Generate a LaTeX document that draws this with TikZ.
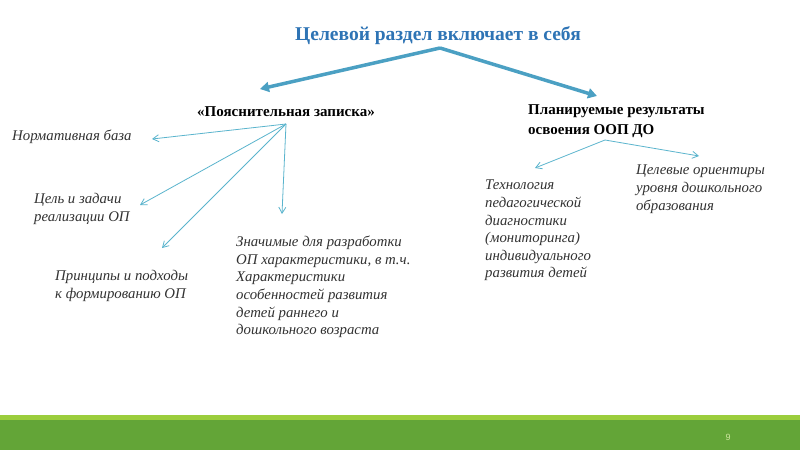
\documentclass[tikz,border=0pt]{standalone}
\usepackage{fontspec}
\setmainfont{Liberation Serif}
\setsansfont{Liberation Sans}
\usetikzlibrary{arrows.meta}
\definecolor{titleblue}{RGB}{46,116,181}
\definecolor{bigarrow}{RGB}{75,160,195}
\definecolor{thinarrow}{RGB}{90,180,205}
\definecolor{txtgray}{RGB}{50,50,50}
\definecolor{darkgreen}{RGB}{99,165,55}
\definecolor{lightgreen}{RGB}{155,205,60}
\tikzset{
  bigarr/.style={draw=bigarrow, line width=3.5pt, -{Triangle[length=9pt,width=10pt]}},
  thinarr/.style={draw=thinarrow, line width=0.8pt, -{Straight Barb[length=6pt,width=7pt]}},
  head/.style={font=\fontsize{15}{19}\selectfont\bfseries, text=black, inner sep=0pt},
  item/.style={font=\fontsize{14.8}{17.6}\selectfont\itshape, text=txtgray, inner sep=0pt, align=left, anchor=north west}
}
\begin{document}
\begin{tikzpicture}[x=1pt,y=-1pt]
\useasboundingbox (0,0) rectangle (800,450);
\fill[white] (0,0) rectangle (800,450);
% footer bar
\fill[lightgreen] (0,415) rectangle (800,420);
\fill[darkgreen] (0,420) rectangle (800,450);
\node[font=\sffamily\fontsize{9}{10}\selectfont, text=lightgreen!50!white, inner sep=0pt] (pg) at (728,437) {9};
% title
\node[font=\fontsize{19.5}{22}\selectfont\bfseries, text=titleblue, inner sep=0pt] (title) at (438,35.5) {Целевой раздел включает в себя};
\coordinate (tsplit) at (440,48);
\coordinate (lend) at (260,89);
\coordinate (rend) at (597,96);
\draw[bigarr] (tsplit) -- (lend);
\draw[bigarr] (tsplit) -- (rend);
% heads
\node[head] (poyas) at (286,112) {«Пояснительная записка»};
\node[head, align=left, anchor=north west, font=\fontsize{15}{20}\selectfont\bfseries] (plan) at (528,104) {Планируемые результаты\\освоения ООП ДО};
% left items
\node[item] (norm) at (12,130) {Нормативная база};
\node[item] (cel) at (34,193) {Цель и задачи\\реализации ОП};
\node[item] (princ) at (55,270) {Принципы и подходы\\к формированию ОП};
\node[item] (znach) at (236,236) {Значимые для разработки\\ОП характеристики, в т.ч.\\Характеристики\\особенностей развития\\детей раннего и\\дошкольного возраста};
% right items
\node[item] (tech) at (485,180) {Технология\\педагогической\\диагностики\\(мониторинга)\\индивидуального\\развития детей};
\node[item] (celev) at (636,165) {Целевые ориентиры\\уровня дошкольного\\образования};
% thin arrows
\coordinate (ls) at (286,124);
\coordinate (e1) at (152,139);
\coordinate (e2) at (140,205);
\coordinate (e3) at (162,248);
\coordinate (e4) at (282,214);
\draw[thinarr] (ls) -- (e1);
\draw[thinarr] (ls) -- (e2);
\draw[thinarr] (ls) -- (e3);
\draw[thinarr] (ls) -- (e4);
\coordinate (rs) at (605,140);
\coordinate (r1) at (535,168);
\coordinate (r2) at (699,156);
\draw[thinarr] (rs) -- (r1);
\draw[thinarr] (rs) -- (r2);
\end{tikzpicture}
\end{document}
